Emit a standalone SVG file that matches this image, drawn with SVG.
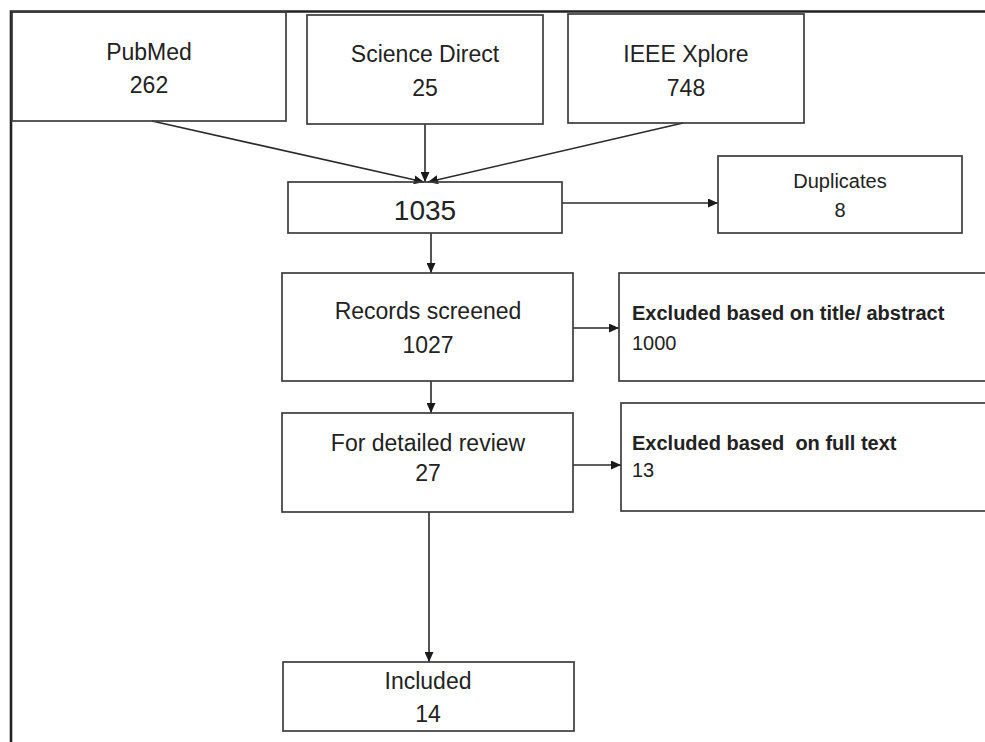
<svg xmlns="http://www.w3.org/2000/svg" width="985" height="742" viewBox="0 0 985 742">
<style>
.box{fill:none;stroke:#3c3c3c;stroke-width:1.7}
.t{font-family:"Liberation Sans",Arial,sans-serif;fill:#222;font-size:23px;text-anchor:middle}
.s{font-size:20px}
.b{font-family:"Liberation Sans",Arial,sans-serif;fill:#222;font-size:20px;font-weight:bold}
.r{font-family:"Liberation Sans",Arial,sans-serif;fill:#222;font-size:20px}
.c{stroke:#2a2a2a;stroke-width:1.6;fill:none;marker-end:url(#ah)}
</style>
<defs>
<marker id="ah" markerUnits="userSpaceOnUse" markerWidth="11" markerHeight="9" refX="10" refY="4.5" orient="auto">
<path d="M0,0 L10,4.5 L0,9 z" fill="#1a1a1a"/>
</marker>
</defs>
<rect width="985" height="742" fill="#fff"/>
<path d="M11,742 V11.5 H985" fill="none" stroke="#222" stroke-width="2.6"/>
<g id="connectors">
<line class="c" x1="152" y1="121" x2="424" y2="182"/>
<line class="c" x1="425" y1="124" x2="425" y2="182"/>
<line class="c" x1="683" y1="123" x2="428" y2="182"/>
<line class="c" x1="562" y1="203" x2="718" y2="203"/>
<line class="c" x1="431" y1="233" x2="431" y2="273"/>
<line class="c" x1="573" y1="328" x2="619" y2="328"/>
<line class="c" x1="431" y1="381" x2="431" y2="413"/>
<line class="c" x1="573" y1="465" x2="621" y2="465"/>
<line class="c" x1="429" y1="512" x2="429" y2="662"/>
</g>
<g id="pubmed">
<rect class="box" x="12" y="12" width="274" height="109"/>
<text class="t" x="149" y="60">PubMed</text>
<text class="t" x="149" y="93">262</text>
</g>
<g id="sciencedirect">
<rect class="box" x="307" y="15" width="236" height="109"/>
<text class="t" x="425" y="62">Science Direct</text>
<text class="t" x="425" y="96">25</text>
</g>
<g id="ieee">
<rect class="box" x="568" y="14" width="236" height="109"/>
<text class="t" x="686" y="62">IEEE Xplore</text>
<text class="t" x="686" y="96">748</text>
</g>
<g id="total">
<rect class="box" x="288" y="182" width="274" height="51"/>
<text class="t" x="425" y="220" style="font-size:28px">1035</text>
</g>
<g id="duplicates">
<rect class="box" x="718" y="156" width="244" height="77"/>
<text class="t s" x="840" y="188">Duplicates</text>
<text class="t s" x="840" y="217">8</text>
</g>
<g id="screened">
<rect class="box" x="282" y="273" width="291" height="108"/>
<text class="t" x="428" y="319">Records screened</text>
<text class="t" x="428" y="353">1027</text>
</g>
<g id="excluded-abstract">
<rect class="box" x="619" y="273" width="400" height="108"/>
<text class="b" x="632" y="320">Excluded based on title/ abstract</text>
<text class="r" x="632" y="350">1000</text>
</g>
<g id="detailed">
<rect class="box" x="282" y="413" width="291" height="99"/>
<text class="t" x="428" y="451">For detailed review</text>
<text class="t" x="428" y="481">27</text>
</g>
<g id="excluded-fulltext">
<rect class="box" x="621" y="403" width="400" height="108"/>
<text class="b" x="632" y="450" xml:space="preserve">Excluded based  on full text</text>
<text class="r" x="632" y="477">13</text>
</g>
<g id="included">
<rect class="box" x="283" y="662" width="291" height="69"/>
<text class="t" x="428" y="689">Included</text>
<text class="t" x="428" y="722">14</text>
</g>
</svg>
